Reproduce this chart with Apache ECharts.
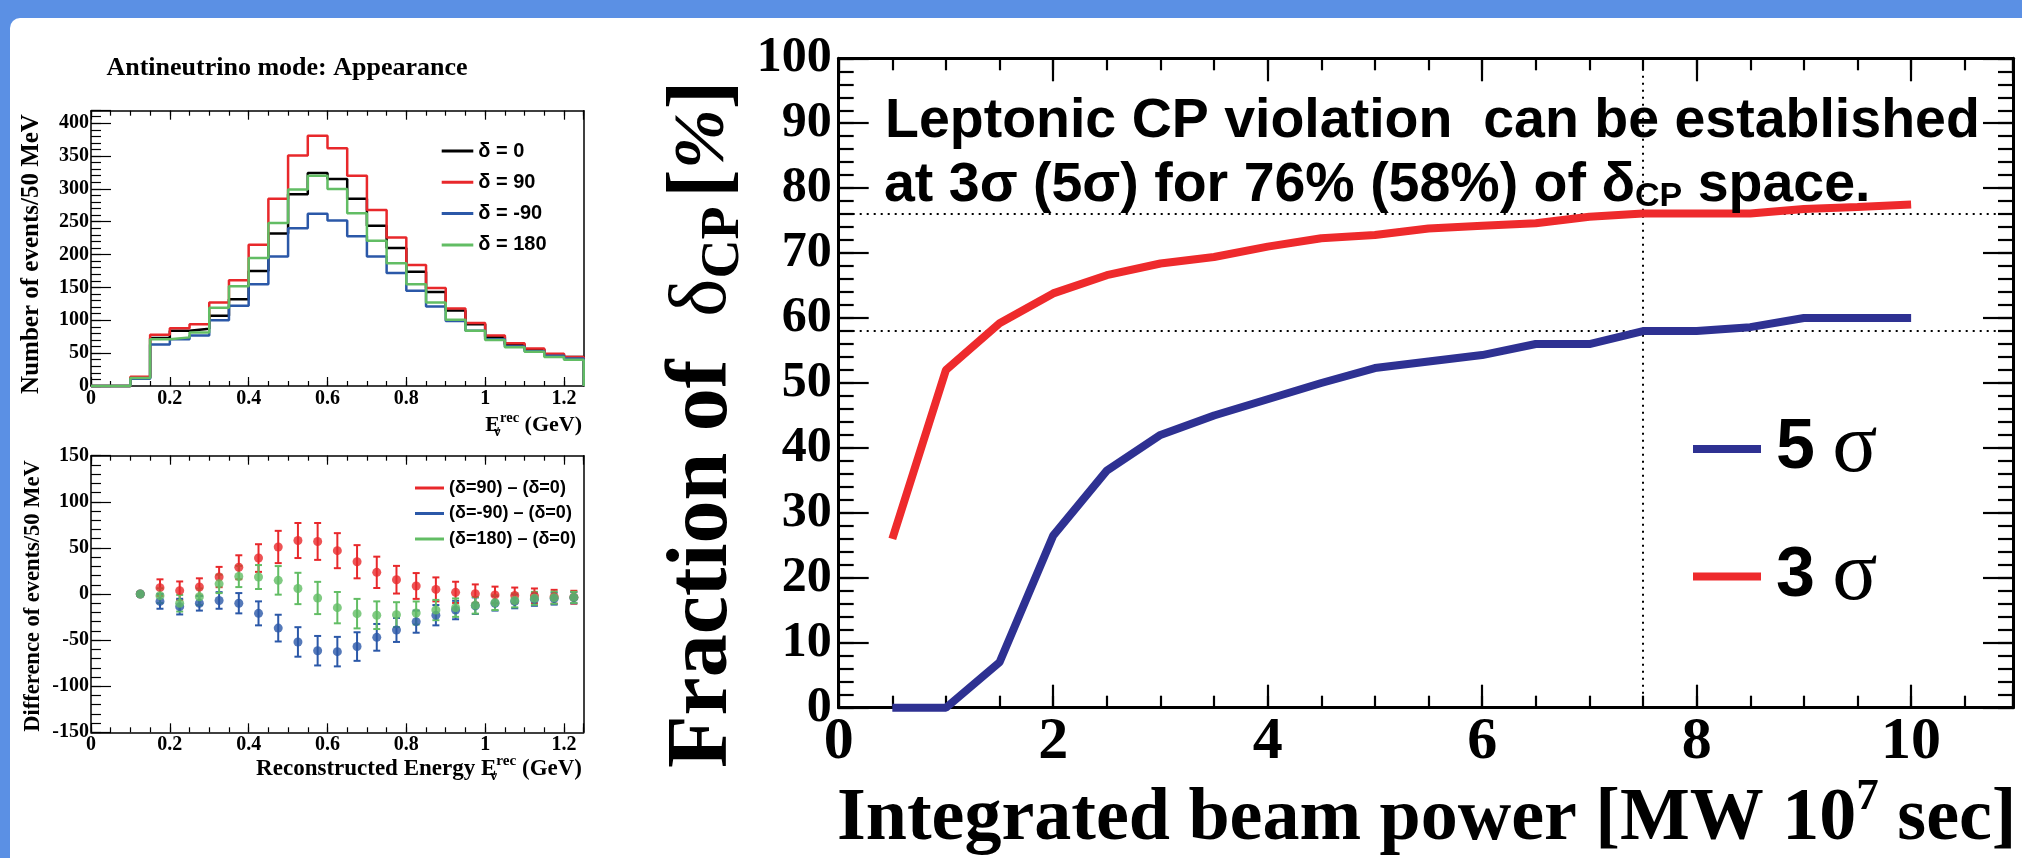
<!DOCTYPE html>
<html><head><meta charset="utf-8">
<script src="https://cdn.jsdelivr.net/npm/echarts@6/dist/echarts.min.js"></script>
<style>html,body{margin:0;padding:0;background:#fff;}#c{width:2022px;height:858px;}</style>
</head><body><div id="c"></div>
<script>
// ---------------- data ----------------
const histEdges = [0,0.05,0.1,0.15,0.2,0.25,0.3,0.35,0.4,0.45,0.5,0.55,0.6,0.65,0.7,0.75,0.8,0.85,0.9,0.95,1,1.05,1.1,1.15,1.2,1.25];
const histDelta0   = [0,0,12,73,84,87,107,132,175,232,292,324,315,285,244,210,174,143,115,94,75,63,56,48,44];
const histDelta90  = [0,0,14,78,88,94,127,161,215,285,351,381,362,320,268,226,184,149,118,96,77,65,57,49,44];
const histDeltaM90 = [0,0,11,63,71,77,100,122,155,197,240,262,252,228,197,172,145,121,99,84,71,60,53,46,42];
const histDelta180 = [0,0,12,71,74,81.5,119,152,195,248,299,320,300,263,221,187,155,127,101,84,70,59,52,44,40];

const diffX = [0.125,0.175,0.225,0.275,0.325,0.375,0.425,0.475,0.525,0.575,0.625,0.675,0.725,0.775,0.825,0.875,0.925,0.975,1.025,1.075,1.125,1.175,1.225];
const diff90   = [0,6.9,3.6,7.6,18.4,29,39,51,58,57,47,35,23.5,15.5,8.7,5,1.8,0.4,-1,-1.5,-2,-3,-3.5];
const err90    = [2,9,10,9.4,11,13,15,17.5,19,20,19,18,17,15,14,13,11.5,10,9,8.5,8,7.5,7];
const diffM90  = [0,-8,-13.7,-10,-7,-10,-21,-37,-52,-61.5,-62.5,-57,-47,-39,-30,-23,-17.4,-12.7,-10,-8,-5.8,-5,-4];
const errM90   = [2,8,8.5,8,9,11,13,14.5,16,16,16,15.5,14.5,13,12,11,10,9,8,7.5,7,6.5,6];
const diff180  = [0,-1.8,-10,-3,11,19,18.4,14.8,6,-4.3,-14.8,-21.3,-23,-22.4,-20.6,-17.4,-14.8,-12.3,-9.4,-7,-4.7,-4,-3.6];
const err180   = [2,8,9,9,10,11.5,13,15.5,17,17.5,17,16,15,13.5,12.5,11,10,9,8,7.5,7,6.5,6];

const beamPower = [0.5,1,1.5,2,2.5,3,3.5,4,4.5,5,5.5,6,6.5,7,7.5,8,8.5,9,9.5,10];
const frac5sigma = [0,0,7,26.5,36.5,42,45,47.5,50,52.3,53.3,54.3,56,56,58,58,58.6,60,60,60];
const frac3sigma = [26,52,59.2,63.8,66.6,68.4,69.4,71,72.3,72.8,73.8,74.2,74.6,75.6,76.1,76.1,76.1,76.8,77.1,77.5];
const guideY = [76, 58];
const guideX = [7.5];

// ---------------- style ----------------
const SERIF = "'Liberation Serif','Times New Roman',serif";
const SANS = "'Liberation Sans',Arial,sans-serif";
const RED = '#e8282b', BLUE = '#2b58a8', GREEN = '#62bd64', BLACK = '#000000';
const RED3 = '#ee2a2c', BLUE5 = '#2e3192';

const mctx = document.createElement('canvas').getContext('2d');
function tw(t, font) { mctx.font = font; return mctx.measureText(t).width; }

function fmt(step) {
  return function (v) {
    const r = v / step;
    if (Math.abs(r - Math.round(r)) > 1e-6) return '';
    return String(parseFloat(v.toFixed(6)));
  };
}

const grids = [], xAxes = [], yAxes = [];
function ax(g, pos, min, max, interval, o) {
  return {
    type: 'value', gridIndex: g, position: pos, min: min, max: max, interval: interval,
    axisLine: { show: !!o.line, onZero: false, lineStyle: { color: '#000', width: o.lineW || 1 } },
    axisTick: { show: o.tick !== false, inside: true, length: o.tickLen, lineStyle: { color: '#000', width: o.tickW } },
    axisLabel: o.label ? Object.assign({ show: true, color: '#000', fontFamily: SERIF, fontWeight: 'bold' }, o.label) : { show: false },
    splitLine: { show: false }, minorTick: { show: false }, minorSplitLine: { show: false },
    axisPointer: { show: false }, silent: true
  };
}
function addPlot(rect, c) {
  const gA = grids.length; grids.push(Object.assign({ show: false, containLabel: false, outerBoundsMode: 'none' }, rect));
  const gB = grids.length; grids.push(Object.assign({ show: false, containLabel: false, outerBoundsMode: 'none' }, rect));
  const xi = xAxes.length, yi = yAxes.length, X = c.x, Y = c.y;
  xAxes.push(ax(gA, 'bottom', X.min, X.max, X.major, { line: true, lineW: c.lineW, tickLen: X.majLen, tickW: c.tickW,
    label: { fontSize: X.font, margin: X.margin, formatter: fmt(X.major) } }));
  xAxes.push(ax(gA, 'top', X.min, X.max, X.major, { line: true, lineW: c.lineW, tickLen: X.majLen, tickW: c.tickW }));
  xAxes.push(ax(gB, 'bottom', X.min, X.max, X.minor, { line: false, tickLen: X.minLen, tickW: c.tickW }));
  xAxes.push(ax(gB, 'top', X.min, X.max, X.minor, { line: false, tickLen: X.minLen, tickW: c.tickW }));
  yAxes.push(ax(gA, 'left', Y.min, Y.max, Y.major, { line: true, lineW: c.lineW, tickLen: Y.majLen, tickW: c.tickW,
    label: { fontSize: Y.font, margin: Y.margin, formatter: fmt(Y.major) } }));
  yAxes.push(ax(gA, 'right', Y.min, Y.max, Y.major, { line: true, lineW: c.lineW, tick: c.rightTicks, tickLen: Y.majLen, tickW: c.tickW }));
  yAxes.push(ax(gB, 'left', Y.min, Y.max, Y.minor, { line: false, tickLen: Y.minLen, tickW: c.tickW }));
  yAxes.push(ax(gB, 'right', Y.min, Y.max, Y.minor, { line: false, tick: c.rightTicks, tickLen: Y.minLen, tickW: c.tickW }));
  return { x: xi, y: yi };
}

const smallX = { min: 0, max: 1.25, major: 0.2, minor: 0.05, majLen: 9, minLen: 5, font: 20, margin: 3 };
const pHist = addPlot({ left: 91, top: 110.7, width: 492.7, height: 275.3 }, {
  x: smallX, y: { min: 0, max: 419, major: 50, minor: 10, majLen: 20, minLen: 10, font: 20, margin: 2 },
  lineW: 1.5, tickW: 1.2, rightTicks: false });
const pDiff = addPlot({ left: 91, top: 455.7, width: 492.7, height: 276.6 }, {
  x: smallX, y: { min: -150, max: 150, major: 50, minor: 10, majLen: 20, minLen: 10, font: 20, margin: 2 },
  lineW: 1.5, tickW: 1.2, rightTicks: false });
const pBig = addPlot({ left: 838.7, top: 58.3, width: 1174.3, height: 649.4 }, {
  x: { min: 0, max: 10.95, major: 2, minor: 0.5, majLen: 23, minLen: 12, font: 60, margin: 5 },
  y: { min: 0, max: 100, major: 10, minor: 2, majLen: 30, minLen: 15, font: 50, margin: 7 },
  lineW: 3, tickW: 2.2, rightTicks: true });

function histPoints(vals) {
  const pts = vals.map((v, i) => [histEdges[i], v]);
  pts.push([histEdges[vals.length], vals[vals.length - 1]]);
  pts.push([histEdges[vals.length], 0]);
  return pts;
}
function histSeries(name, vals, color) {
  return { type: 'line', name: name, xAxisIndex: pHist.x, yAxisIndex: pHist.y, step: 'end', data: histPoints(vals),
    symbol: 'none', showSymbol: false, clip: false, color: color, itemStyle: { color: color },
    lineStyle: { color: color, width: 2.5 }, z: 3, silent: true };
}
function errRender(params, api) {
  const x = api.value(0), y = api.value(1), e = api.value(2);
  const t = api.coord([x, y + e]), b = api.coord([x, y - e]);
  const c = api.visual('color'), w = 3.5, st = { stroke: c, lineWidth: 2 };
  return { type: 'group', children: [
    { type: 'line', shape: { x1: t[0], y1: t[1], x2: b[0], y2: b[1] }, style: st },
    { type: 'line', shape: { x1: t[0] - w, y1: t[1], x2: t[0] + w, y2: t[1] }, style: st },
    { type: 'line', shape: { x1: b[0] - w, y1: b[1], x2: b[0] + w, y2: b[1] }, style: st }
  ] };
}
function diffSeries(name, vals, errs, color) {
  return [
    { type: 'custom', name: name, xAxisIndex: pDiff.x, yAxisIndex: pDiff.y, renderItem: errRender,
      data: diffX.map((x, i) => [x, vals[i], errs[i]]), color: color, itemStyle: { color: color }, z: 3, silent: true },
    { type: 'scatter', name: name, xAxisIndex: pDiff.x, yAxisIndex: pDiff.y, symbolSize: 9,
      data: diffX.map((x, i) => [x, vals[i]]), color: color, itemStyle: { color: color }, z: 4, silent: true }
  ];
}

// ---------------- graphic texts ----------------
const G = [];
G.push({ type: 'rect', shape: { x: 10, y: 18, width: 2012, height: 840, r: [10, 0, 0, 0] }, style: { fill: '#ffffff' }, z: -10, silent: true });
G.push({ type: 'text', x: 287, y: 68.5, style: { text: 'Antineutrino mode: Appearance', font: 'bold 26px ' + SERIF, fill: '#000', align: 'center', verticalAlign: 'middle' }, z: 10 });
G.push({ type: 'text', x: 32, y: 254, rotation: Math.PI / 2, style: { text: 'Number of events/50 MeV', font: 'bold 25px ' + SERIF, fill: '#000', align: 'center', verticalAlign: 'middle' }, z: 10 });
G.push({ type: 'text', x: 33, y: 596, rotation: Math.PI / 2, style: { text: 'Difference of events/50 MeV', font: 'bold 22.5px ' + SERIF, fill: '#000', align: 'center', verticalAlign: 'middle' }, z: 10 });

function energyTitle(prefix, capMid, size) {
  const fb = 'bold ' + size + 'px ' + SERIF, fs = 'bold ' + (size * 0.66) + 'px ' + SERIF, right = 582;
  const gevLeft = right - tw('(GeV)', fb);
  const recLeft = gevLeft - tw(' ', fb) - tw('rec', fs);
  G.push({ type: 'text', x: recLeft, y: capMid, style: { text: prefix + 'E', font: fb, fill: '#000', align: 'right', verticalAlign: 'middle' }, z: 10 });
  G.push({ type: 'text', x: recLeft, y: capMid - 7.6, style: { text: 'rec', font: fs, fill: '#000', align: 'left', verticalAlign: 'middle' }, z: 10 });
  G.push({ type: 'text', x: recLeft - 6, y: capMid + 6.7, style: { text: 'ν', font: fs, fill: '#000', align: 'left', verticalAlign: 'middle' }, z: 10 });
  G.push({ type: 'text', x: right, y: capMid, style: { text: '(GeV)', font: fb, fill: '#000', align: 'right', verticalAlign: 'middle' }, z: 10 });
}
energyTitle('', 425.5, 22);
energyTitle('Reconstructed Energy ', 769, 23);

G.push({ type: 'text', x: 885, y: 121.7, style: { text: 'Leptonic CP violation  can be established', fontFamily: SANS, fontWeight: 'bold', fontSize: 55.5, fill: '#000', align: 'left', verticalAlign: 'middle' }, z: 10 });
G.push({ type: 'text', x: 884, y: 185.5, style: { text: 'at 3σ (5σ) for 76% (58%) of δ{sub|CP} space.', fontFamily: SANS, fontWeight: 'bold', fontSize: 55.5, fill: '#000', align: 'left', verticalAlign: 'middle',
  rich: { sub: { fontFamily: SANS, fontWeight: 'bold', fontSize: 34, fill: '#000', verticalAlign: 'bottom' } } }, z: 10 });

G.push({ type: 'text', x: 704, y: 768, rotation: Math.PI / 2, style: {
  text: 'Fraction of  {d|δ}{sub|CP}{sp| }{b|[}{p|%}{b|]}', fontFamily: SERIF, fontWeight: 'bold', fontSize: 86, lineHeight: 94, fill: '#000', align: 'left', verticalAlign: 'middle',
  rich: {
    d: { fontFamily: SERIF, fontWeight: 'normal', fontSize: 81, lineHeight: 94, fill: '#000' },
    sub: { fontFamily: SERIF, fontWeight: 'bold', fontSize: 54, fill: '#000', verticalAlign: 'bottom' },
    sp: { fontFamily: SERIF, fontSize: 34, fill: '#000' },
    b: { fontFamily: SERIF, fontWeight: 'bold', fontSize: 86, lineHeight: 94, fill: '#000' },
    p: { fontFamily: SERIF, fontWeight: 'bold', fontStyle: 'italic', fontSize: 72, lineHeight: 94, fill: '#000' }
  } }, z: 10 });

G.push({ type: 'text', x: 837, y: 819.5, style: {
  text: 'Integrated beam power [MW 10{sup|7} sec]', fontFamily: SERIF, fontWeight: 'bold', fontSize: 74, lineHeight: 90, fill: '#000', align: 'left', verticalAlign: 'middle',
  rich: { sup: { fontFamily: SERIF, fontWeight: 'bold', fontSize: 45, fill: '#000', verticalAlign: 'top' } } }, z: 10 });

// ---------------- option ----------------
const legendBase = { orient: 'vertical', padding: 0, itemGap: 0, icon: 'rect', selectedMode: false, itemStyle: { borderWidth: 0 } };
const option = {
  animation: false,
  backgroundColor: '#5b90e4',
  grid: grids, xAxis: xAxes, yAxis: yAxes,
  legend: [
    Object.assign({}, legendBase, { data: ['δ = 0', 'δ = 90', 'δ = -90', 'δ = 180'], left: 441.7, top: 135.35, itemWidth: 31.6, itemHeight: 3,
      textStyle: { color: '#000', fontFamily: SANS, fontWeight: 'bold', fontSize: 20, lineHeight: 31.3 } }),
    Object.assign({}, legendBase, { data: ['(δ=90) – (δ=0)', '(δ=-90) – (δ=0)', '(δ=180) – (δ=0)'], left: 415, top: 475.25, itemWidth: 29, itemHeight: 3,
      textStyle: { color: '#000', fontFamily: SANS, fontWeight: 'bold', fontSize: 18, lineHeight: 25.5 } }),
    Object.assign({}, legendBase, { data: ['5 σ', '3 σ'], left: 1693, top: 385.25, itemWidth: 68, itemHeight: 8,
      formatter: function (n) { return '{n|' + n.split(' ')[0] + '} {s|σ}'; },
      textStyle: { color: '#000', fontFamily: SANS, fontSize: 62, lineHeight: 127.5,
        rich: { n: { fontFamily: SANS, fontWeight: 'bold', fontSize: 70, lineHeight: 127.5, color: '#000', padding: [0, 0, 0, 10] },
                s: { fontFamily: SERIF, fontSize: 84, lineHeight: 127.5, color: '#000' } } } })
  ],
  graphic: { elements: G },
  series: [
    histSeries('δ = 0', histDelta0, BLACK),
    histSeries('δ = 90', histDelta90, RED),
    histSeries('δ = -90', histDeltaM90, BLUE),
    histSeries('δ = 180', histDelta180, GREEN),
    ...diffSeries('(δ=90) – (δ=0)', diff90, err90, RED),
    ...diffSeries('(δ=-90) – (δ=0)', diffM90, errM90, BLUE),
    ...diffSeries('(δ=180) – (δ=0)', diff180, err180, GREEN),
    { type: 'line', name: 'guides', xAxisIndex: pBig.x, yAxisIndex: pBig.y, data: [], z: 1, silent: true,
      markLine: { silent: true, z: 1, symbol: ['none', 'none'], label: { show: false }, animation: false,
        lineStyle: { color: '#000', width: 2, type: [2, 5] },
        data: guideY.map(v => ({ yAxis: v })).concat(guideX.map(v => ({ xAxis: v }))) } },
    { type: 'line', name: '5 σ', xAxisIndex: pBig.x, yAxisIndex: pBig.y, data: beamPower.map((x, i) => [x, frac5sigma[i]]),
      symbol: 'none', showSymbol: false, clip: false, color: BLUE5, itemStyle: { color: BLUE5 }, lineStyle: { color: BLUE5, width: 8 }, z: 3, silent: true },
    { type: 'line', name: '3 σ', xAxisIndex: pBig.x, yAxisIndex: pBig.y, data: beamPower.map((x, i) => [x, frac3sigma[i]]),
      symbol: 'none', showSymbol: false, clip: false, color: RED3, itemStyle: { color: RED3 }, lineStyle: { color: RED3, width: 8 }, z: 3, silent: true }
  ]
};
const chart = echarts.init(document.getElementById('c'), null, { renderer: 'canvas', width: 2022, height: 858 });
chart.setOption(option);
</script></body></html>
